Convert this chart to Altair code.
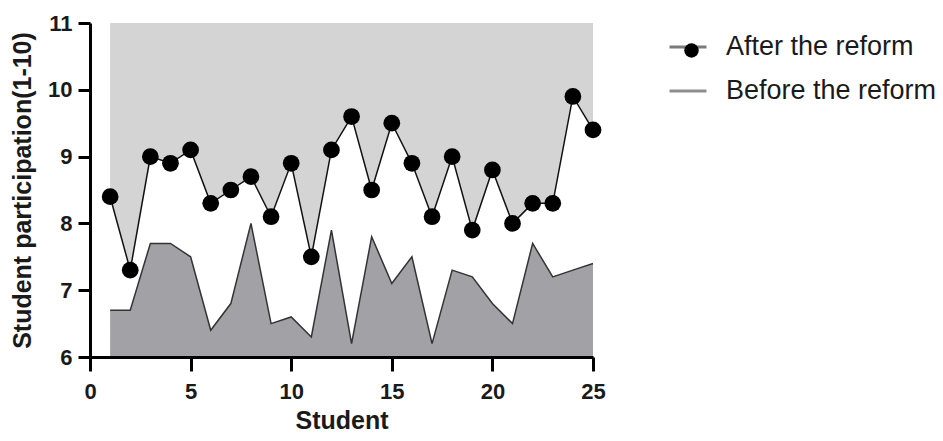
import altair as alt
import pandas as pd

students = list(range(1, 26))
after = [8.4, 7.3, 9.0, 8.9, 9.1, 8.3, 8.5, 8.7, 8.1, 8.9, 7.5, 9.1, 9.6,
         8.5, 9.5, 8.9, 8.1, 9.0, 7.9, 8.8, 8.0, 8.3, 8.3, 9.9, 9.4]
before = [6.7, 6.7, 7.7, 7.7, 7.5, 6.4, 6.8, 8.0, 6.5, 6.6, 6.3, 7.9, 6.2,
          7.8, 7.1, 7.5, 6.2, 7.3, 7.2, 6.8, 6.5, 7.7, 7.2, 7.3, 7.4]
series_names = ["After the reform", "Before the reform"]
x_ticks = [0, 5, 10, 15, 20, 25]
y_ticks = [6, 7, 8, 9, 10, 11]
y_min, y_max = 6, 11

wide = pd.DataFrame({"Student": students, "after": after, "before": before})
long = pd.DataFrame({
    "Student": students * 2,
    "value": after + before,
    "series": [series_names[0]] * len(students) + [series_names[1]] * len(students),
})
pts = pd.DataFrame({"Student": students, "value": after,
                    "marker": [series_names[0]] * len(students)})

FONT = "Liberation Sans, Arial, sans-serif"

xenc = alt.X("Student:Q",
             scale=alt.Scale(domain=[0, 25], nice=False),
             axis=alt.Axis(values=x_ticks, title="Student", labelPadding=10,
                           titlePadding=6, labelFlush=False, ticks=True,
                           tickSize=14, tickColor="#000000", tickWidth=3,
                           tickOpacity=1, zindex=1))
yscale = alt.Scale(domain=[y_min, y_max], nice=False, zero=False)
yaxis = alt.Axis(values=y_ticks, title="Student participation(1-10)",
                 labelPadding=6, titlePadding=12, labelFlush=False, ticks=True,
                 tickSize=12, tickColor="#000000", tickWidth=3, tickOpacity=1,
                 zindex=1)

top_area = alt.Chart(wide).mark_area(color="#d4d4d4", opacity=1).encode(
    x=xenc,
    y=alt.Y("after:Q", scale=yscale, axis=yaxis),
    y2=alt.datum(y_max),
)
bottom_area = alt.Chart(wide).mark_area(color="#a2a2a6", opacity=1).encode(
    x=xenc,
    y=alt.Y("before:Q", scale=yscale, axis=yaxis),
    y2=alt.datum(y_min),
)
lines = alt.Chart(long).mark_line(strokeWidth=1.5).encode(
    x=xenc,
    y=alt.Y("value:Q", scale=yscale, axis=yaxis),
    color=alt.Color("series:N",
                    scale=alt.Scale(domain=series_names, range=["#111111", "#333333"]),
                    legend=alt.Legend(title=None, orient="none", legendX=578, legendY=4,
                                      symbolType="stroke", symbolSize=1369,
                                      symbolStrokeWidth=3, symbolOpacity=0.55,
                                      labelFont=FONT, labelFontSize=27,
                                      labelColor="#1a1a1a", labelOffset=18,
                                      labelLimit=0, rowPadding=11, padding=0)),
    detail="series:N",
)
points = alt.Chart(pts).mark_circle(size=280, opacity=1).encode(
    x=xenc,
    y=alt.Y("value:Q", scale=yscale, axis=yaxis),
    fill=alt.Fill("marker:N",
                  scale=alt.Scale(domain=[series_names[0]], range=["#000000"]),
                  legend=alt.Legend(title=None, orient="none", legendX=588, legendY=14,
                                    symbolType="circle", symbolSize=210,
                                    symbolOpacity=1, labelExpr="''",
                                    labelFontSize=27, labelOffset=0, padding=0)),
)

chart = alt.layer(top_area, bottom_area, lines, points).properties(
    width=503, height=334,
    autosize=alt.AutoSizeParams(type="none"),
    padding={"left": 82, "top": 15, "right": 342, "bottom": 76},
).configure_axis(
    grid=False,
    domainColor="#000000", domainWidth=3,
    labelFont=FONT, labelFontWeight="bold", labelFontSize=22, labelColor="#1a1a1a",
    titleFont=FONT, titleFontWeight="bold", titleFontSize=25, titleColor="#1a1a1a",
).configure_view(stroke=None)

chart.save("out.html", embed_options={"renderer": "svg", "actions": False})
